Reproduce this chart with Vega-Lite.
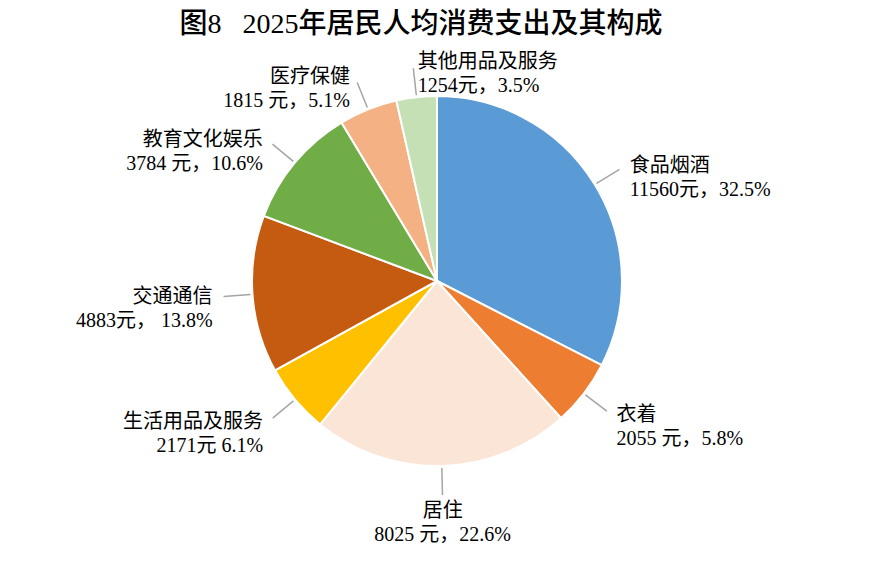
{
  "$schema": "https://vega.github.io/schema/vega-lite/v6.json",
  "width": 874,
  "height": 462,
  "autosize": {"type": "none"},
  "padding": {"left": 0, "top": 50, "right": 12, "bottom": 50},
  "background": "white",
  "title": {
    "text": "图8\u00a0\u00a0\u00a02025年居民人均消费支出及其构成",
    "font": "Liberation Serif, Noto Sans CJK SC",
    "fontSize": 28,
    "fontWeight": 500,
    "color": "#000000",
    "anchor": "middle",
    "dx": -16,
    "offset": 11
  },
  "data": {
    "values": [
      {"category": "食品烟酒", "amount": 11560, "label": "食品烟酒\n11560元，32.5%"},
      {"category": "衣着", "amount": 2055, "label": "衣着\n2055 元，5.8%"},
      {"category": "居住", "amount": 8025, "label": "居住\n8025 元，22.6%"},
      {"category": "生活用品及服务", "amount": 2171, "label": "生活用品及服务\n2171元 6.1%"},
      {"category": "交通通信", "amount": 4883, "label": "交通通信\n4883元， 13.8%"},
      {"category": "教育文化娱乐", "amount": 3784, "label": "教育文化娱乐\n3784 元，10.6%"},
      {"category": "医疗保健", "amount": 1815, "label": "医疗保健\n1815 元，5.1%"},
      {"category": "其他用品及服务", "amount": 1254, "label": "其他用品及服务\n1254元，3.5%"}
    ]
  },
  "transform": [{"window": [{"op": "row_number", "as": "i"}]}],
  "encoding": {
    "theta": {"field": "amount", "type": "quantitative", "stack": true},
    "order": {"field": "i", "type": "quantitative"},
    "detail": {"field": "category", "type": "nominal"}
  },
  "layer": [
    {
      "mark": {"type": "arc", "outerRadius": 185, "stroke": "#ffffff", "strokeWidth": 2},
      "encoding": {
        "color": {
          "field": "category",
          "type": "nominal",
          "legend": null,
          "scale": {
            "domain": ["食品烟酒", "衣着", "居住", "生活用品及服务", "交通通信", "教育文化娱乐", "医疗保健", "其他用品及服务"],
            "range": ["#5B9BD5", "#ED7D31", "#FBE5D6", "#FFC000", "#C55A11", "#70AD47", "#F4B183", "#C5E0B4"]
          }
        }
      }
    },
    {
      "mark": {"type": "arc", "outerRadius": 214, "innerRadius": 187, "padAngle": 3, "stroke": "#A5A5A5", "strokeWidth": 1.5, "fill": "#ffffff", "fillOpacity": 0}
    },
    {
      "mark": {"type": "text", "radius": 220, "align": "left", "baseline": "middle", "dx": 5, "lineBreak": "\n", "lineHeight": 24, "font": "Liberation Serif, Noto Sans CJK SC", "fontSize": 20, "color": "#000000"},
      "encoding": {
        "text": {
          "condition": {"test": "indexof(['食品烟酒','衣着','其他用品及服务'], datum.category) >= 0", "field": "label"},
          "value": ""
        }
      }
    },
    {
      "mark": {"type": "text", "radius": 220, "align": "right", "baseline": "middle", "dx": -5, "lineBreak": "\n", "lineHeight": 24, "font": "Liberation Serif, Noto Sans CJK SC", "fontSize": 20, "color": "#000000"},
      "encoding": {
        "text": {
          "condition": {"test": "indexof(['生活用品及服务','交通通信','教育文化娱乐','医疗保健'], datum.category) >= 0", "field": "label"},
          "value": ""
        }
      }
    },
    {
      "mark": {"type": "text", "radius": 220, "align": "center", "baseline": "top", "lineBreak": "\n", "lineHeight": 24, "font": "Liberation Serif, Noto Sans CJK SC", "fontSize": 20, "color": "#000000"},
      "encoding": {
        "text": {
          "condition": {"test": "datum.category === '居住'", "field": "label"},
          "value": ""
        }
      }
    }
  ]
}
